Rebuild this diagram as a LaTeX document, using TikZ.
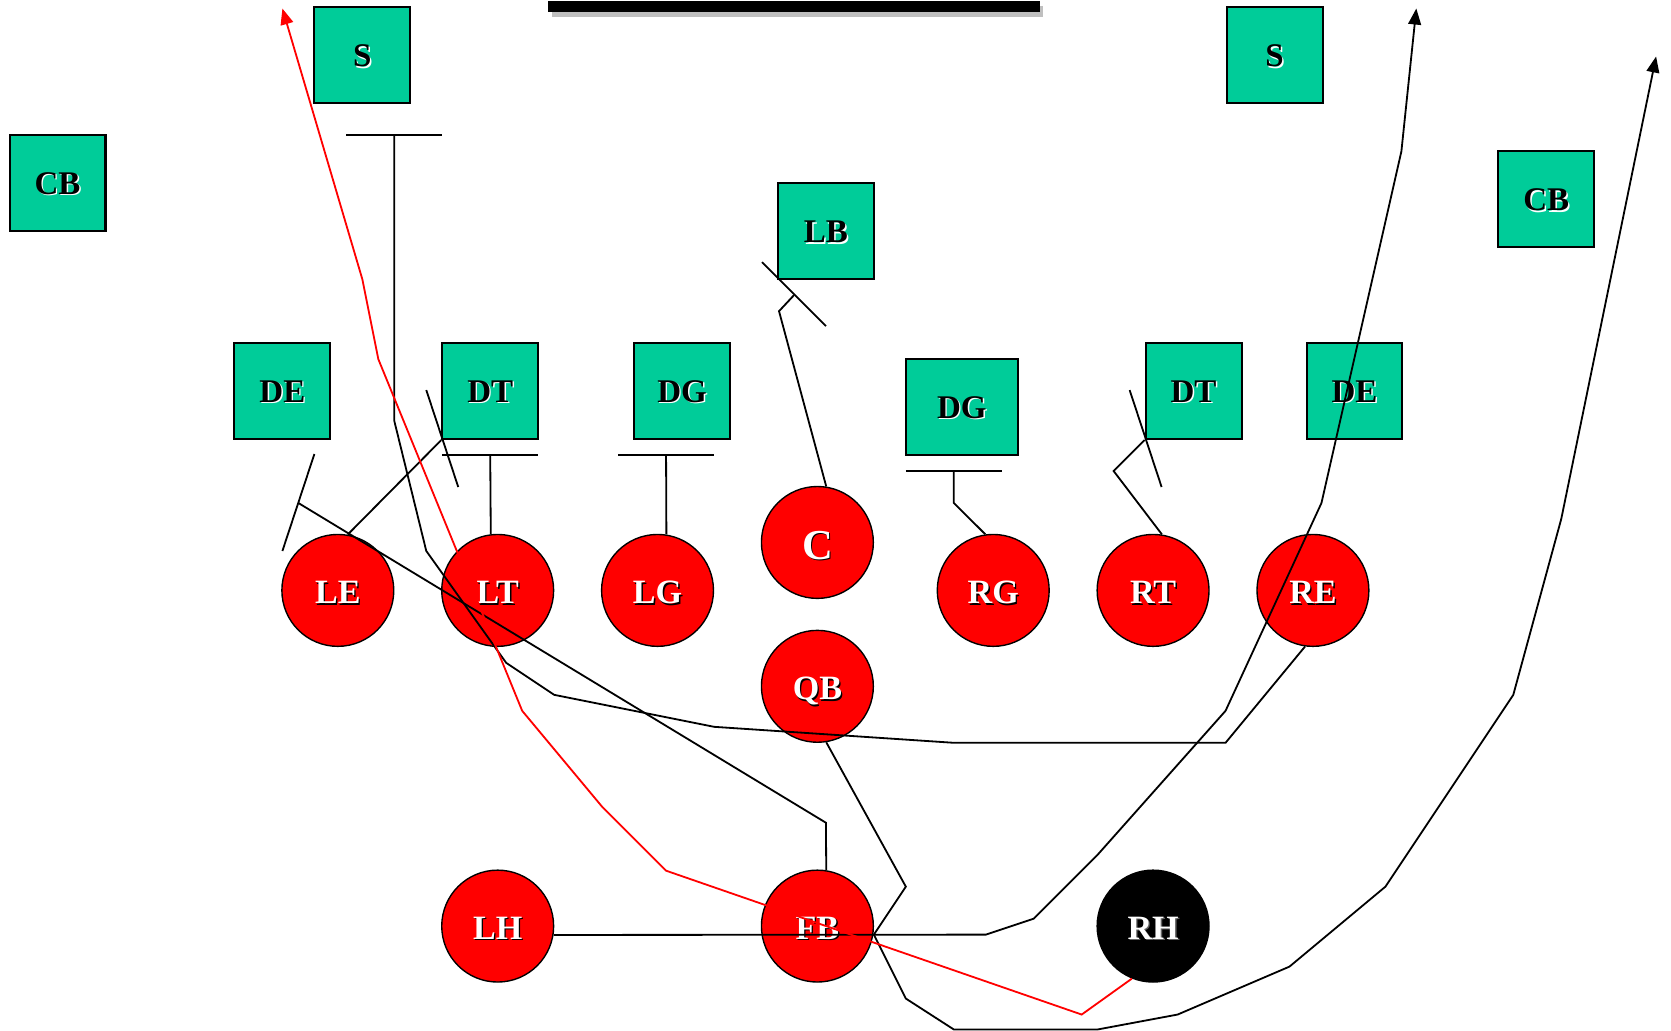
\documentclass[tikz,border=0pt]{standalone}
\usepackage{fontspec}
\setmainfont{Liberation Serif}
\usetikzlibrary{arrows.meta}
\definecolor{defgreen}{RGB}{0,204,153}
\newcommand{\shtext}[3]{\makebox[0pt][l]{\kern1.3pt\raisebox{-1.3pt}{\textcolor{#1}{#3}}}\textcolor{#2}{#3}}
\begin{document}
\begin{tikzpicture}[x=1pt,y=-1pt,
  defbox/.style={draw=black, line width=1.9pt, fill=defgreen, minimum width=90pt, minimum height=90pt, inner sep=0pt, text height=21.4pt, text depth=0pt, font=\fontsize{31}{31}\selectfont\bfseries},
  offman/.style={circle, draw=black, line width=1.3pt, fill=red, minimum size=105pt, inner sep=0pt, text height=25.2pt, text depth=0pt, font=\fontsize{32}{32}\selectfont\bfseries},
  runline/.style={line width=1.7pt, draw=black, line join=miter},
  redrun/.style={line width=1.7pt, draw=red, line join=miter},
  arrowend/.style={-{Triangle[length=15pt,width=12pt]}}]
\useasboundingbox (0,0) rectangle (1568,967);
\fill[white] (0,0) rectangle (1568,967);
% top bar
\fill[black!25] (518,5.6) rectangle (979,15.7);
\fill[black] (514,1) rectangle (976,11);
% defense
\node[defbox] (Sl) at (340,52) {\shtext{white}{black}{S}};
\node[defbox] (Sr) at (1196,52) {\shtext{white}{black}{S}};
\node[defbox] (CBl) at (54,171.5) {\shtext{white}{black}{CB}};
\node[defbox] (CBr) at (1451,187) {\shtext{white}{black}{CB}};
\node[defbox] (LB) at (775,217) {\shtext{white}{black}{LB}};
\node[defbox] (DEl) at (265,367) {\shtext{white}{black}{DE}};
\node[defbox] (DTl) at (460,367) {\shtext{white}{black}{DT}};
\node[defbox] (DGl) at (640,367) {\shtext{white}{black}{DG}};
\node[defbox, minimum width=105pt] (DGr) at (902.5,382) {\shtext{white}{black}{DG}};
\node[defbox] (DTr) at (1120,367) {\shtext{white}{black}{DT}};
\node[defbox] (DEr) at (1271,367) {\shtext{white}{black}{DE}};
% offense
\node[offman] (LE) at (317,554) {\shtext{black}{white}{LE}};
\node[offman] (LT) at (467,554) {\shtext{black}{white}{LT}};
\node[offman] (LG) at (617,554) {\shtext{black}{white}{LG}};
\node[offman, text height=32.2pt, font=\fontsize{40}{40}\selectfont\bfseries] (C) at (767,509) {\shtext{black}{white}{C}};
\node[offman] (RG) at (932,554) {\shtext{black}{white}{RG}};
\node[offman] (RT) at (1082,554) {\shtext{black}{white}{RT}};
\node[offman] (RE) at (1232,554) {\shtext{black}{white}{RE}};
\node[offman] (QB) at (767,644) {\shtext{black}{white}{QB}};
\node[offman] (LH) at (467,869) {\shtext{black}{white}{LH}};
\node[offman] (FB) at (767,869) {\shtext{black}{white}{FB}};
\node[offman, fill=black] (RH) at (1082,869) {\shtext{black!60}{white}{RH}};
% waypoints
\coordinate (a1) at (1150,697); \coordinate (a2) at (895,697); \coordinate (a3) at (670,682);
\coordinate (a4) at (520,652); \coordinate (a5) at (475,622); \coordinate (a6) at (400,517);
\coordinate (a7) at (370,395); \coordinate (a8) at (370,127);
\coordinate (a8l) at (325,127); \coordinate (a8r) at (415,127);
\coordinate (b1) at (775,772); \coordinate (b2) at (280,472);
\coordinate (b2a) at (265,517); \coordinate (b2b) at (295,426);
\coordinate (c1a) at (400,366); \coordinate (c1b) at (430,457);
\coordinate (d1) at (460,427); \coordinate (d1l) at (415,427); \coordinate (d1r) at (505,427);
\coordinate (e1) at (625,427); \coordinate (e1l) at (580,427); \coordinate (e1r) at (670,427);
\coordinate (f1) at (731,292); \coordinate (f2) at (745,277);
\coordinate (f2a) at (715,246); \coordinate (f2b) at (775,306);
\coordinate (g1) at (895,472); \coordinate (g2) at (895,442);
\coordinate (g2l) at (850,442); \coordinate (g2r) at (940,442);
\coordinate (h1) at (1045,442); \coordinate (h2a) at (1060,366); \coordinate (h2b) at (1090,457);
\coordinate (i1) at (925,877); \coordinate (i2) at (970,862); \coordinate (i3) at (1030,802);
\coordinate (i4) at (1150,667); \coordinate (i5) at (1240,472); \coordinate (i6) at (1315,142);
\coordinate (i7) at (1329,8);
\coordinate (j1) at (850,832); \coordinate (j2) at (820,877); \coordinate (j3) at (850,937);
\coordinate (j4) at (895,966); \coordinate (j5) at (1030,966); \coordinate (j6) at (1105,952);
\coordinate (j7) at (1210,907); \coordinate (j8) at (1300,832); \coordinate (j9) at (1420,652);
\coordinate (j10) at (1465,487); \coordinate (j11) at (1554,53);
\coordinate (k1) at (1015,952); \coordinate (k2) at (625,817); \coordinate (k3) at (565,757);
\coordinate (k4) at (490,667); \coordinate (k5) at (355,337); \coordinate (k6) at (340,262);
\coordinate (k7) at (265,8);
% routes and blocks
\draw[runline] (RE.262) -- (a1) -- (a2) -- (a3) -- (a4) -- (a5) -- (a6) -- (a7) -- (a8);
\draw[runline] (a8l) -- (a8r);
\draw[runline] (FB.81) -- (b1) -- (b2);
\draw[runline] (b2a) -- (b2b);
\draw[runline] (LE.80) -- (DTl.south west);
\draw[runline] (c1a) -- (c1b);
\draw[runline] (LT.97) -- (d1);
\draw[runline] (d1l) -- (d1r);
\draw[runline] (LG.81) -- (e1);
\draw[runline] (e1l) -- (e1r);
\draw[runline] (C.81) -- (f1) -- (f2);
\draw[runline] (f2a) -- (f2b);
\draw[runline] (RG.98) -- (g1) -- (g2);
\draw[runline] (g2l) -- (g2r);
\draw[runline] (RT.81) -- (h1) -- (DTr.south west);
\draw[runline] (h2a) -- (h2b);
\draw[runline, arrowend] (LH.-9) -- (i1) -- (i2) -- (i3) -- (i4) -- (i5) -- (i6) -- (i7);
\draw[runline, arrowend] (QB.-81) -- (j1) -- (j2) -- (j3) -- (j4) -- (j5) -- (j6) -- (j7) -- (j8) -- (j9) -- (j10) -- (j11);
\draw[redrun, arrowend] (RH.-112) -- (k1) -- (k2) -- (k3) -- (k4) -- (k5) -- (k6) -- (k7);
\end{tikzpicture}
\end{document}
